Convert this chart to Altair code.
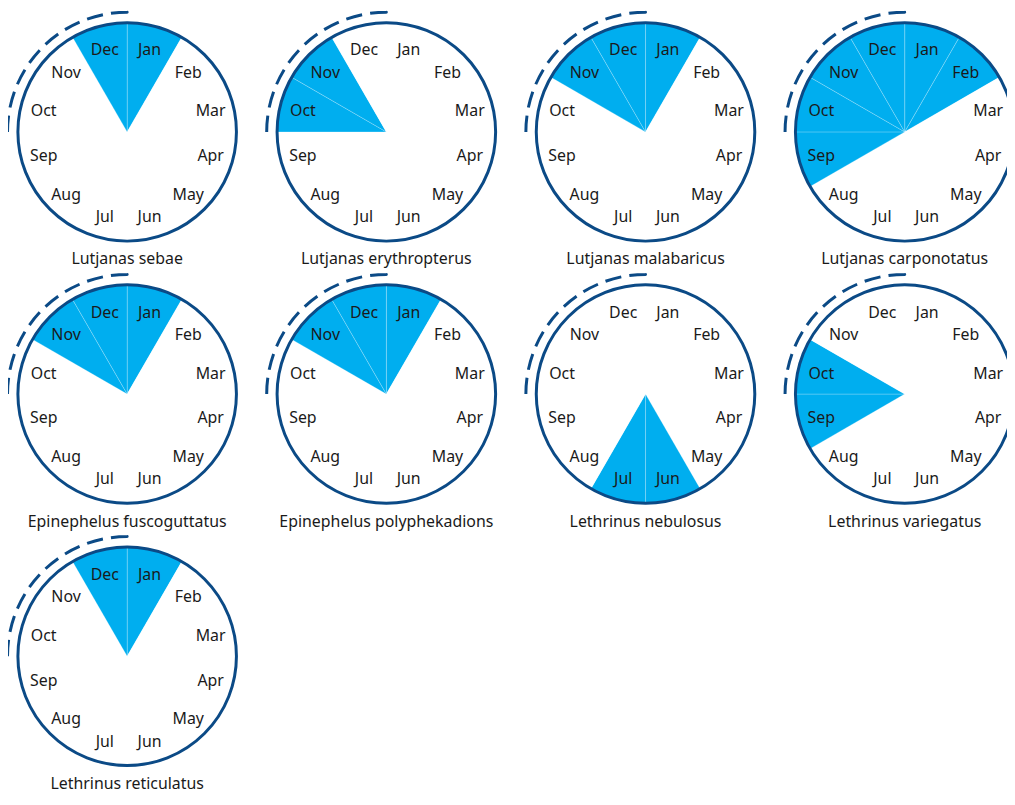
import math
import altair as alt
import pandas as pd

# ---- data -------------------------------------------------------------
months = ["Jan", "Feb", "Mar", "Apr", "May", "Jun",
          "Jul", "Aug", "Sep", "Oct", "Nov", "Dec"]

species = [
    "Lutjanas sebae",
    "Lutjanas erythropterus",
    "Lutjanas malabaricus",
    "Lutjanas carponotatus",
    "Epinephelus fuscoguttatus",
    "Epinephelus polyphekadions",
    "Lethrinus nebulosus",
    "Lethrinus variegatus",
    "Lethrinus reticulatus",
]

spawning = [
    ["Dec", "Jan"],
    ["Oct", "Nov"],
    ["Nov", "Dec", "Jan"],
    ["Sep", "Oct", "Nov", "Dec", "Jan", "Feb"],
    ["Nov", "Dec", "Jan"],
    ["Nov", "Dec", "Jan"],
    ["Jun", "Jul"],
    ["Sep", "Oct"],
    ["Dec", "Jan"],
]

season = ["Oct", "Nov", "Dec"]  # dashed arc outside every clock

# ---- style ------------------------------------------------------------
BLUE = "#00aeef"
NAVY = "#0b4a86"
INK = "#1a1a1a"
FONT = "Noto Sans"
R = 110
R_SEASON = 120.5

t0 = months.index(season[0]) * 2 * math.pi / 12
t1 = (months.index(season[-1]) + 1) * 2 * math.pi / 12
arc_len = R_SEASON * (t1 - t0)
n_dash, dash = 8, 16.5
gap = (arc_len - n_dash * dash) / (n_dash - 1)
dash_pattern = [dash, gap] * (n_dash - 1) + [dash, 2000]


def panel(name, active):
    df = pd.DataFrame({
        "month": months,
        "idx": list(range(12)),
        "share": [1] * 12,
        "state": ["on" if m in active else "off" for m in months],
    })
    one = pd.DataFrame({"species": [name]})
    base = alt.Chart(df)

    wedges = base.mark_arc(radius=R, stroke="white", strokeWidth=0.5,
                           strokeOpacity=0.45, strokeJoin="round").encode(
        theta=alt.Theta("share:Q", stack=True),
        order=alt.Order("idx:Q"),
        color=alt.Color("state:N",
                        scale=alt.Scale(domain=["on", "off"], range=[BLUE, "#ffffff"]),
                        legend=None),
    )
    outline = alt.Chart(one).mark_arc(
        theta=0, theta2=2 * math.pi, radius=R, filled=False, strokeWidth=3,
        strokeJoin="round"
    ).encode(stroke=alt.value(NAVY))

    dashed = alt.Chart(one).mark_arc(
        theta=t0, theta2=t1, radius=R_SEASON, radius2=R_SEASON, filled=False,
        strokeWidth=3, strokeDash=dash_pattern, strokeJoin="round"
    ).encode(stroke=alt.value(NAVY))

    labels = base.mark_text(radius=87, dy=2, font=FONT, fontSize=16,
                            color=INK).encode(
        theta=alt.Theta("share:Q", stack=True),
        order=alt.Order("idx:Q"),
        text="month:N",
    )
    title = alt.Chart(one).mark_text(theta=math.pi, radius=128.5, font=FONT,
                                     fontSize=16, color=INK).encode(
        text="species:N")

    return alt.layer(wedges, outline, dashed, labels, title).properties(
        width=240, height=240)


panels = [panel(s, a) for s, a in zip(species, spawning)]

chart = alt.concat(
    *panels, columns=4, spacing={"row": 24, "column": 21}, bounds="flush"
).properties(
    padding={"left": -2, "top": 0, "right": -17, "bottom": -1}
).configure_view(stroke=None)

chart.save("out.html", embed_options={"renderer": "svg", "actions": False})
